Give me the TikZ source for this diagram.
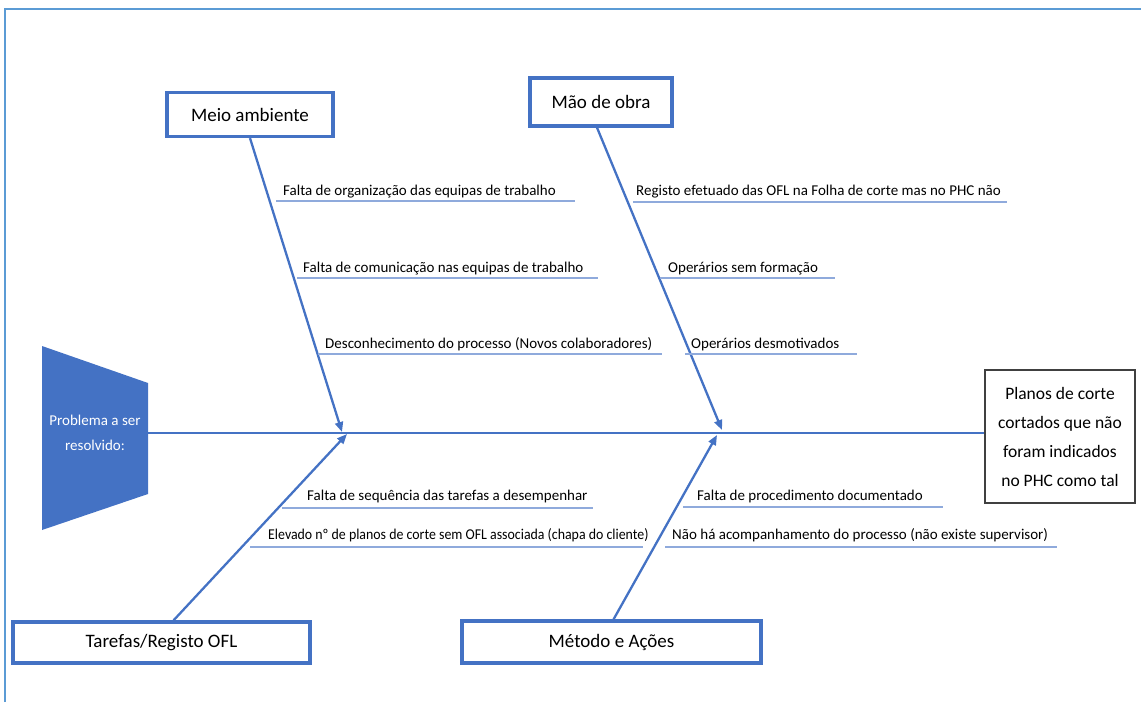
\documentclass[tikz,border=0pt]{standalone}
\usepackage{fontspec}
\setmainfont{Carlito}
\usetikzlibrary{arrows.meta}
\definecolor{bl}{HTML}{4472C4}
\definecolor{ul}{HTML}{8FAADC}
\definecolor{fr}{HTML}{5B9BD5}
\begin{document}
\begin{tikzpicture}[x=1pt,y=-1pt,
  cat/.style={draw=bl, line width=3.2pt, fill=white, inner sep=0pt, font=\fontsize{19}{23}\selectfont},
  bone/.style={draw=bl, line width=2.3pt, -{Triangle[length=10pt,width=8pt]}},
  spine/.style={draw=bl, line width=2.7pt},
  lbl/.style={anchor=base west, inner sep=0pt, font=\fontsize{15}{18}\selectfont},
  uline/.style={draw=ul, line width=1.3pt},
  frame/.style={draw=fr, line width=2pt}]
\useasboundingbox (0,0) rectangle (1141,702);
% outer frame
\draw[frame] (5,702) -- (5,9) -- (1141,9);
% problem shape
\fill[bl] (42,346) -- (148,383) -- (148,494) -- (42,530) -- cycle;
\coordinate (trapR) at (148,433);
\node[text=white, align=center, font=\fontsize{15}{25}\selectfont] (prob) at (95,433) {Problema a ser\\resolvido:};
% effect box
\node[draw=black!75, line width=1.2pt, minimum width=150pt, minimum height=133pt, align=center, font=\fontsize{17.5}{29}\selectfont] (eff) at (1060,436.5) {Planos de corte\\cortados que não\\foram indicados\\no PHC como tal};
% spine
\draw[spine] (trapR) -- (trapR -| eff.west);
% category boxes
\node[cat, minimum width=166pt, minimum height=44pt] (meio) at (250,114.5) {Meio ambiente};
\node[cat, minimum width=142pt, minimum height=48pt] (mao) at (601,102) {Mão de obra};
\node[cat, minimum width=297pt, minimum height=41pt] (tar) at (161.5,642.5) {Tarefas/Registo OFL};
\node[cat, minimum width=299pt, minimum height=42pt] (met) at (611.5,642) {Método e Ações};
% junctions
\coordinate (j1) at (342,432);
\coordinate (j2) at (722,430);
\coordinate (j3) at (347,434);
\coordinate (j4) at (717,435);
% bones
\draw[bone] (meio.south) -- (j1);
\draw[bone] ([xshift=-4pt]mao.south) -- (j2);
\draw[bone] ([xshift=12pt]tar.north) -- (j3);
\draw[bone] ([xshift=2pt]met.north) -- (j4);
% Meio ambiente causes
\node[lbl] (m1) at (283,195) {Falta de organização das equipas de trabalho};
\draw[uline] (276,201) -- (575,201);
\node[lbl] (m2) at (303,272) {Falta de comunicação nas equipas de trabalho};
\draw[uline] (297,278) -- (598,278);
\node[lbl] (m3) at (325,348) {Desconhecimento do processo (Novos colaboradores)};
\draw[uline] (318,354) -- (662,354);
% Mao de obra causes
\node[lbl] (o1) at (636,195) {Registo efetuado das OFL na Folha de corte mas no PHC não};
\draw[uline] (633,202) -- (1007,202);
\node[lbl] (o2) at (668,272) {Operários sem formação};
\draw[uline] (660,278) -- (835,278);
\node[lbl] (o3) at (691,348) {Operários desmotivados};
\draw[uline] (685,354) -- (857,354);
% Tarefas causes
\node[lbl] (t1) at (307,500) {Falta de sequência das tarefas a desempenhar};
\draw[uline] (282,508) -- (593,508);
\node[lbl] (t2) at (268,539) {\scalebox{0.925}[1]{Elevado nº de planos de corte sem OFL associada (chapa do cliente)}};
\draw[uline] (250,547) -- (643,547);
% Metodo causes
\node[lbl] (e1) at (697,500) {Falta de procedimento documentado};
\draw[uline] (683,507) -- (943,507);
\node[lbl] (e2) at (672,539) {Não há acompanhamento do processo (não existe supervisor)};
\draw[uline] (665,547) -- (1057,547);
\end{tikzpicture}
\end{document}
